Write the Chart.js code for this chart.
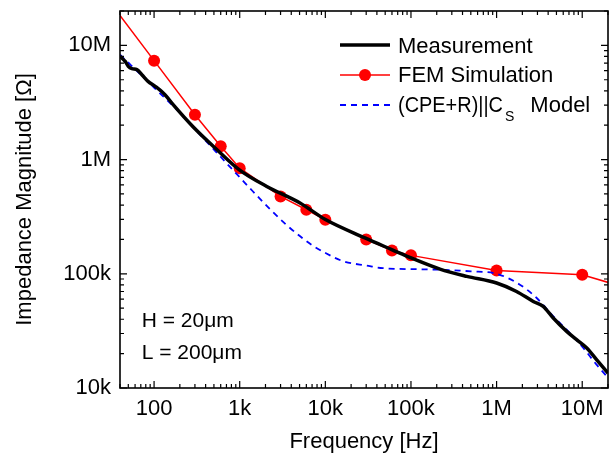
<!DOCTYPE html>
<html><head><meta charset="utf-8">
<script src="https://cdn.jsdelivr.net/npm/chart.js@4"></script>
<style>html,body{margin:0;padding:0;background:#fff;} canvas{display:block;}</style>
</head><body>
<canvas id="c" width="616" height="461"></canvas>
<script>
// ---- data ----
const measFreq = [40, 46, 50, 55, 63, 72, 85, 103, 134, 167, 285, 543, 982, 2070, 5060, 9900, 29000, 59600, 102000, 218000, 448000, 1000000, 1710000, 2680000, 3500000, 4590000, 6580000, 8600000, 11300000, 14700000, 20000000];
const measZ    = [8.0e6, 7.24e6, 6.55e6, 6.25e6, 6.13e6, 5.54e6, 4.84e6, 4.38e6, 3.70e6, 3.03e6, 1.94e6, 1.22e6, 8.17e5, 5.82e5, 4.17e5, 3.0e5, 2.06e5, 1.63e5, 1.37e5, 1.10e5, 9.5e4, 8.3e4, 7.0e4, 5.73e4, 5.19e4, 4.1e4, 3.13e4, 2.65e4, 2.24e4, 1.77e4, 1.35e4];

const femFreq = [10, 100, 300, 600, 1000, 3000, 6000, 10000, 30000, 60000, 100000, 1000000, 10000000, 100000000];
const femZ    = [7.2e7, 7.35e6, 2.47e6, 1.31e6, 8.4e5, 4.76e5, 3.64e5, 2.98e5, 2.0e5, 1.6e5, 1.45e5, 1.07e5, 9.8e4, 5.9e4];

const modelFreq = [40, 100, 200, 300, 412, 925, 1320, 2260, 3380, 5080, 7180, 9900, 16100, 30400, 47100, 181000, 502000, 1000000, 1870000, 2940000, 4590000, 7190000, 10300000, 14700000, 20000000];
const modelZ    = [8.3e6, 4.27e6, 2.57e6, 1.85e6, 1.43e6, 7.45e5, 5.6e5, 3.68e5, 2.75e5, 2.13e5, 1.76e5, 1.53e5, 1.29e5, 1.18e5, 1.12e5, 1.09e5, 1.05e5, 1.0e5, 8.03e4, 6.14e4, 4.24e4, 3.03e4, 2.24e4, 1.6e4, 1.23e4];

const xTickValues = [100, 1000, 10000, 100000, 1000000, 10000000];
const xTickLabels = ['100', '1k', '10k', '100k', '1M', '10M'];
const yTickValues = [10000, 100000, 1000000, 10000000];
const yTickLabels = ['10k', '100k', '1M', '10M'];

const seriesNames = ['Measurement', 'FEM Simulation', '(CPE+R)||C', 'S', 'Model'];
const annotations = ['H = 20\u03BCm', 'L = 200\u03BCm'];
const xTitle = 'Frequency [Hz]';
const yTitle = 'Impedance Magnitude [\u03A9]';

const FONT = '"Liberation Sans", Arial, Helvetica, sans-serif';
const toXY = (xs, ys) => xs.map((x, i) => ({x: x, y: ys[i]}));

const frameTicks = {
  id: 'frameTicks',
  afterDatasetsDraw(chart) {
    const {ctx, chartArea: a, scales: {x, y}} = chart;
    ctx.save();
    ctx.strokeStyle = '#000';
    ctx.lineWidth = 1.2;
    ctx.beginPath();
    const major = 7, minor = 4;
    for (let d = 0; d <= 8; d++) {
      for (let m = 1; m <= 9; m++) {
        const v = m * Math.pow(10, d);
        const L = m === 1 ? major : minor;
        if (v >= x.min && v <= x.max) {
          const px = x.getPixelForValue(v);
          ctx.moveTo(px, a.bottom); ctx.lineTo(px, a.bottom - L);
          ctx.moveTo(px, a.top); ctx.lineTo(px, a.top + L);
        }
        if (v >= y.min && v <= y.max) {
          const py = y.getPixelForValue(v);
          ctx.moveTo(a.left, py); ctx.lineTo(a.left + L, py);
          ctx.moveTo(a.right, py); ctx.lineTo(a.right - L, py);
        }
      }
    }
    ctx.stroke();
    ctx.lineWidth = 1.6;
    ctx.strokeRect(a.left, a.top, a.right - a.left, a.bottom - a.top);
    ctx.restore();
  },
  afterDraw(chart) {
    const ctx = chart.ctx;
    ctx.save();
    // legend
    const lx0 = 340, lx1 = 390, tx = 398;
    const rows = [45, 75, 105];
    ctx.lineCap = 'butt';
    ctx.strokeStyle = '#000'; ctx.lineWidth = 3.5;
    ctx.beginPath(); ctx.moveTo(lx0, rows[0]); ctx.lineTo(lx1, rows[0]); ctx.stroke();
    ctx.strokeStyle = '#ff0000'; ctx.lineWidth = 1.5;
    ctx.beginPath(); ctx.moveTo(lx0, rows[1]); ctx.lineTo(lx1, rows[1]); ctx.stroke();
    ctx.fillStyle = '#ff0000';
    ctx.beginPath(); ctx.arc((lx0 + lx1) / 2, rows[1], 6, 0, Math.PI * 2); ctx.fill();
    ctx.strokeStyle = '#0000ff'; ctx.lineWidth = 1.8; ctx.setLineDash([6, 5]);
    ctx.beginPath(); ctx.moveTo(lx0, rows[2]); ctx.lineTo(lx1, rows[2]); ctx.stroke();
    ctx.setLineDash([]);
    ctx.fillStyle = '#000';
    ctx.textBaseline = 'alphabetic';
    ctx.textAlign = 'left';
    ctx.font = '22px ' + FONT;
    ctx.fillText(seriesNames[0], tx, 53.3);
    ctx.fillText(seriesNames[1], tx, 82.3);
    ctx.fillText(seriesNames[2], tx, 112.3, 105);
    const w1 = Math.min(ctx.measureText(seriesNames[2]).width, 105);
    ctx.font = '14px ' + FONT;
    const sx = tx + w1 + 2;
    ctx.fillText(seriesNames[3], sx, 120.7);
    const sw = ctx.measureText(seriesNames[3]).width;
    ctx.font = '22px ' + FONT;
    ctx.fillText(seriesNames[4], sx + sw + 16, 112.3);
    // annotation
    ctx.font = '21px ' + FONT;
    ctx.fillText(annotations[0], 141.7, 326.7);
    ctx.fillText(annotations[1], 141.7, 359.3);
    ctx.restore();
  }
};

new Chart(document.getElementById('c'), {
  type: 'line',
  data: {
    datasets: [
      {
        label: seriesNames[0], data: toXY(measFreq, measZ),
        borderColor: '#000', borderWidth: 3.5, pointRadius: 0,
        cubicInterpolationMode: 'monotone', clip: 0
      },
      {
        label: seriesNames[2], data: toXY(modelFreq, modelZ),
        borderColor: '#0000ff', borderWidth: 1.8, borderDash: [6, 5], pointRadius: 0,
        cubicInterpolationMode: 'monotone', clip: 0
      },
      {
        label: seriesNames[1], data: toXY(femFreq, femZ),
        borderColor: '#ff0000', borderWidth: 1.5, tension: 0,
        pointRadius: 6, pointBackgroundColor: '#ff0000', pointBorderWidth: 0, clip: 0
      }
    ]
  },
  options: {
    responsive: false,
    animation: false,
    devicePixelRatio: 1,
    layout: {padding: {left: 12, right: 8, top: 11, bottom: 6}},
    plugins: {legend: {display: false}, tooltip: {enabled: false}},
    scales: {
      x: {
        type: 'logarithmic', min: 40, max: 2e7,
        grid: {display: false, drawTicks: false}, border: {display: false},
        afterBuildTicks: (s) => { s.ticks = xTickValues.map(v => ({value: v})); },
        afterFit: (s) => { s.height = 67; s.paddingLeft = 0; s.paddingRight = 0; },
        ticks: {
          autoSkip: false, maxRotation: 0, minRotation: 0, padding: 8, color: '#000',
          font: {size: 22, family: FONT},
          callback: (v) => { const i = xTickValues.indexOf(v); return i >= 0 ? xTickLabels[i] : ''; }
        },
        title: {display: true, text: xTitle, color: '#000', font: {size: 22, family: FONT}, padding: {top: 0, bottom: 0}}
      },
      y: {
        type: 'logarithmic', min: 1e4, max: 2e7,
        grid: {display: false, drawTicks: false}, border: {display: false},
        afterBuildTicks: (s) => { s.ticks = yTickValues.map(v => ({value: v})); },
        afterFit: (s) => { s.width = 108; s.paddingTop = 0; s.paddingBottom = 0; },
        ticks: {
          autoSkip: false, padding: 9, color: '#000',
          font: {size: 22, family: FONT},
          callback: (v) => { const i = yTickValues.indexOf(v); return i >= 0 ? yTickLabels[i] : ''; }
        },
        title: {display: true, text: yTitle, color: '#000', font: {size: 22, family: FONT}, padding: {top: 0, bottom: 0}}
      }
    }
  },
  plugins: [frameTicks]
});
</script>
</body></html>
